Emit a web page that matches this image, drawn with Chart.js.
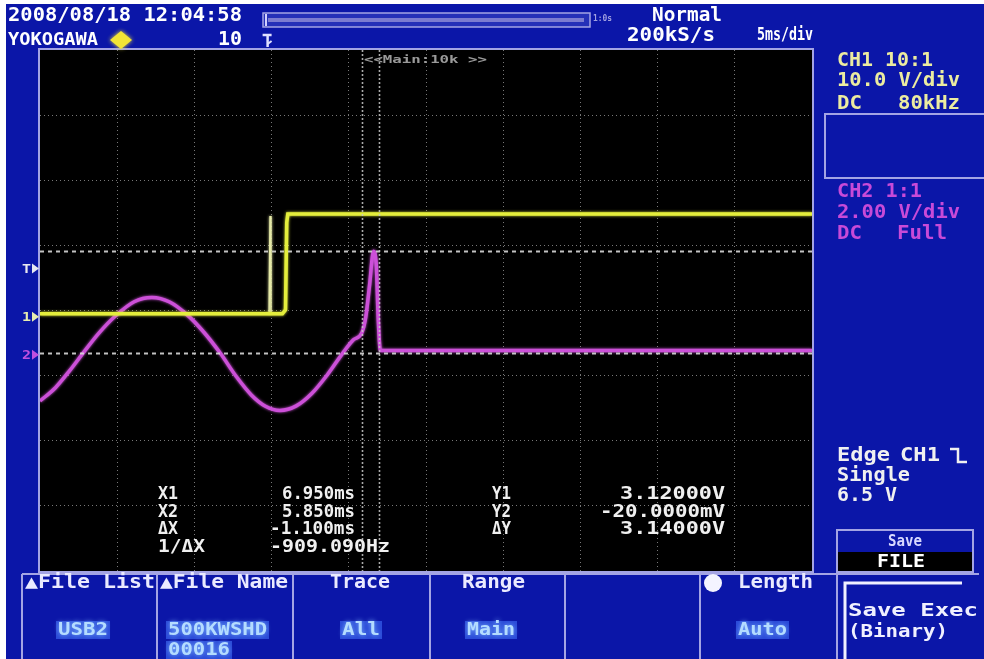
<!DOCTYPE html>
<html>
<head>
<meta charset="utf-8">
<script src="https://cdn.jsdelivr.net/npm/chart.js@4.4.1/dist/chart.umd.min.js"></script>
<style>
  html, body { margin: 0; padding: 0; background: #ffffff; }
  canvas { display: block; }
</style>
</head>
<body>
<canvas id="scope" width="984" height="659"></canvas>
<script>
// ---- acquisition data ----
// time axis in ms relative to the trigger point, 5 ms/div over 10 divisions
const timeRangeMs = [-15, 35];
const timePerDivMs = 5;
const vertDivs = [-4, 4];

// channel settings: volts per division and position offset (divisions)
const channelNames = ['CH1', 'CH2'];
const voltsPerDiv = [10, 2];
const offsetDiv = [-0.05, -0.65];

// CH1: step from about 0 V to about 15 V shortly after the trigger
const ch1TimeMs = [-15, 0.70, 0.90, 0.98, 1.05, 35];
const ch1Volts  = [0.0, 0.0, 0.6, 14.0, 15.3, 15.3];

// CH1: narrow glitch right at the trigger point
const ch1GlitchTimeMs = [-0.16, -0.10, -0.04];
const ch1GlitchVolts  = [0.0, 15.0, 0.0];

// CH2: sine-like signal, a sharp peak, then flat near 0 V
const ch2TimeMs = [-15, -14.0, -13.1, -12.2, -11.2, -10.1, -8.9, -7.75, -6.6, -5.5, -4.4, -3.34,
                   -2.3, -1.3, -0.4, 0.54, 1.6, 2.6, 3.6, 4.62, 5.3, 5.85, 6.1, 6.35, 6.6,
                   6.78, 6.9, 7.05, 35];
const ch2Volts  = [-1.48, -1.07, -0.56, 0.0, 0.60, 1.14, 1.57, 1.70, 1.56, 1.18, 0.64, 0.0,
                   -0.72, -1.30, -1.64, -1.77, -1.63, -1.25, -0.68, 0.0, 0.40, 0.62, 1.10, 2.10, 3.12,
                   2.70, 1.10, 0.07, 0.07];

// cursors: time cursors (ms) and level cursors on CH2 (V)
const cursorTimeMs = [6.95, 5.85];
const cursorLevelV = [3.12, -0.02];
const triggerLevelV = 6.5;

// readout texts
const xLabels = ['X1', 'X2', '\u0394X', '1/\u0394X'];
const xValues = ['6.950ms', '5.850ms', '-1.100ms', '-909.090Hz'];
const yLabels = ['Y1', 'Y2', '\u0394Y'];
const yValues = ['3.12000V', '-20.0000mV', '3.14000V'];

const menuTitles = ['\u25B2File List', '\u25B2File Name', 'Trace', 'Range', '', 'Length'];
const menuValues = [['USB2'], ['500KWSHD', '00016'], ['All'], ['Main'], [], ['Auto']];

// ---- helpers ----
const toDiv = (v, ch) => v / voltsPerDiv[ch] + offsetDiv[ch];
const series = (ts, vs, ch) => ts.map((t, i) => ({ x: t, y: toDiv(vs[i], ch) }));

const FONT = '"DejaVu Sans Mono", "Liberation Mono", monospace';
const BLUE = '#0b16a8';
const LAV = '#a4a4e4';
const Y_TXT = '#ececa0';
const M_TXT = '#c84ad8';
const Y_TRACE = '#e4ee3c';
const M_TRACE = '#cc50d8';

// draw a string stretched to span x0..x1, vertically centred on y
function fitText(ctx, str, x0, x1, y, color, size, glow) {
  ctx.save();
  ctx.font = 'bold ' + size + 'px ' + FONT;
  ctx.textBaseline = 'middle';
  ctx.fillStyle = color;
  if (glow) { ctx.shadowColor = glow; ctx.shadowBlur = 5; }
  const w = ctx.measureText(str).width || 1;
  ctx.translate(x0, y + 1);
  ctx.scale((x1 - x0) / w, 1);
  ctx.fillText(str, 0, 0);
  ctx.restore();
}

function line(ctx, pts, color, width, dash) {
  ctx.save();
  ctx.strokeStyle = color;
  ctx.lineWidth = width;
  ctx.setLineDash(dash || []);
  ctx.beginPath();
  ctx.moveTo(pts[0][0], pts[0][1]);
  for (let i = 1; i < pts.length; i++) ctx.lineTo(pts[i][0], pts[i][1]);
  ctx.stroke();
  ctx.restore();
}

function rect(ctx, x0, y0, x1, y1, color, width) {
  ctx.save();
  ctx.strokeStyle = color;
  ctx.lineWidth = width;
  ctx.strokeRect(x0, y0, x1 - x0, y1 - y0);
  ctx.restore();
}

// ---- screen furniture around the graticule ----
const screenPlugin = {
  id: 'screen',
  beforeDraw(chart) {
    const ctx = chart.ctx;
    const a = chart.chartArea;
    ctx.save();
    ctx.fillStyle = '#ffffff';
    ctx.fillRect(0, 0, chart.width, chart.height);
    ctx.fillStyle = BLUE;
    ctx.fillRect(6, 4, chart.width - 6, chart.height - 4);
    ctx.fillStyle = '#000000';
    ctx.fillRect(a.left, a.top, a.right - a.left, a.bottom - a.top);
    ctx.restore();
  },
  beforeDatasetDraw(chart, args) {
    const ctx = chart.ctx;
    ctx.save();
    ctx.shadowColor = args.meta.dataset.options.borderColor;
    ctx.shadowBlur = 3;
  },
  afterDatasetDraw(chart) {
    chart.ctx.restore();
  },
  afterDatasetsDraw(chart) {
    const ctx = chart.ctx;
    const a = chart.chartArea;
    const xs = chart.scales.x, ys = chart.scales.y;
    // level cursors (CH2)
    cursorLevelV.forEach(v => {
      const py = Math.round(ys.getPixelForValue(toDiv(v, 1))) + 0.5;
      line(ctx, [[a.left, py], [a.right, py]], 'rgba(215,215,215,0.9)', 2, [4, 4]);
    });
    // time cursors
    cursorTimeMs.forEach(t => {
      const px = Math.round(xs.getPixelForValue(t)) + 0.5;
      line(ctx, [[px, a.top], [px, a.bottom]], 'rgba(200,200,200,0.85)', 1.6, [2, 2]);
    });
    // zoom window caption
    const cx = xs.getPixelForValue(Math.min.apply(null, cursorTimeMs));
    fitText(ctx, '<<Main:10k >>', cx + 2, cx + 125, a.top + 9, '#9a9a9a', 11);
  },
  afterDraw(chart) {
    const ctx = chart.ctx;
    const a = chart.chartArea;
    const xs = chart.scales.x, ys = chart.scales.y;

    // graticule frame
    rect(ctx, a.left - 1, a.top - 1, a.right + 1, a.bottom + 1, LAV, 2);

    // ---- top status bar ----
    fitText(ctx, '2008/08/18 12:04:58', 8, 242, 15, '#ffffff', 19);
    fitText(ctx, 'YOKOGAWA', 8, 98, 40, '#ffffff', 17);
    ctx.save();
    ctx.fillStyle = '#f2e436';
    ctx.shadowColor = '#f2e436'; ctx.shadowBlur = 4;
    ctx.beginPath();
    ctx.moveTo(121, 31); ctx.lineTo(132, 40); ctx.lineTo(121, 49); ctx.lineTo(110, 40);
    ctx.closePath(); ctx.fill();
    ctx.restore();
    fitText(ctx, '10', 218, 242, 39, '#ffffff', 19);
    // trigger position mark
    const tx = xs.getPixelForValue(0) - 4;
    line(ctx, [[tx - 5, 35], [tx + 4, 35]], '#e0e0ff', 2.5);
    line(ctx, [[tx, 35], [tx, 47]], '#e0e0ff', 2.5);
    line(ctx, [[tx, 44], [tx + 4, 41]], '#e0e0ff', 2);
    // record length bar
    ctx.save();
    ctx.fillStyle = '#2530b8';
    ctx.fillRect(263, 13, 327, 14);
    ctx.fillStyle = '#7c7cd0';
    ctx.fillRect(268, 18, 316, 4);
    ctx.restore();
    rect(ctx, 263, 13, 590, 27, LAV, 1.5);
    line(ctx, [[266, 14], [266, 26]], '#d0d0ff', 2);
    fitText(ctx, '1:0s', 593, 612, 18, '#a0a0e0', 9);
    fitText(ctx, 'Normal', 652, 722, 15, '#ffffff', 19);
    fitText(ctx, '200kS/s', 627, 715, 35, '#ffffff', 19);
    fitText(ctx, '5ms/div', 757, 813, 35, '#ffffff', 17);

    // ---- left ground / level markers ----
    const marker = (py, label, color) => {
      ctx.save();
      ctx.fillStyle = color;
      ctx.beginPath();
      ctx.moveTo(32, py - 5); ctx.lineTo(39, py); ctx.lineTo(32, py + 5);
      ctx.closePath(); ctx.fill();
      ctx.restore();
      fitText(ctx, label, 22, 31, py, color, 13);
    };
    marker(ys.getPixelForValue(toDiv(triggerLevelV, 0)) - 3, 'T', '#e8e8f0');
    marker(ys.getPixelForValue(toDiv(0, 0)) + 3, '1', '#e8ecb0');
    marker(ys.getPixelForValue(toDiv(0, 1)) + 2, '2', '#c050e0');

    // ---- cursor readout ----
    const rowY = [494, 512, 529, 547];
    const xSpan = [[282, 355], [282, 355], [270, 355], [270, 390]];
    xLabels.forEach((s, i) => fitText(ctx, s, 158, s.length > 2 ? 205 : 178, rowY[i], '#f0f0f0', 17));
    xValues.forEach((s, i) => fitText(ctx, s, xSpan[i][0], xSpan[i][1], rowY[i], '#f0f0f0', 17));
    const ySpan = [[620, 725], [600, 725], [620, 725]];
    yLabels.forEach((s, i) => fitText(ctx, s, 492, 511, rowY[i], '#f0f0f0', 17));
    yValues.forEach((s, i) => fitText(ctx, s, ySpan[i][0], ySpan[i][1], rowY[i], '#f0f0f0', 17));

    // ---- right panel ----
    fitText(ctx, 'CH1 10:1', 837, 933, 60, Y_TXT, 19);
    fitText(ctx, '10.0 V/div', 837, 960, 80, Y_TXT, 19);
    fitText(ctx, 'DC', 837, 862, 103, Y_TXT, 19);
    fitText(ctx, '80kHz', 898, 960, 103, Y_TXT, 19);
    rect(ctx, 825, 114, 990, 178, LAV, 2);
    fitText(ctx, 'CH2 1:1', 837, 922, 191, M_TXT, 19);
    fitText(ctx, '2.00 V/div', 837, 960, 212, M_TXT, 19);
    fitText(ctx, 'DC', 837, 862, 233, M_TXT, 19);
    fitText(ctx, 'Full', 897, 947, 233, M_TXT, 19);

    fitText(ctx, 'Edge', 837, 890, 455, '#f0f0f0', 19);
    fitText(ctx, 'CH1', 900, 940, 455, '#f0f0f0', 19);
    line(ctx, [[950, 449], [958, 449], [958, 462], [967, 462]], '#f0f0f0', 2.5);
    fitText(ctx, 'Single', 837, 910, 475, '#f0f0f0', 19);
    fitText(ctx, '6.5 V', 837, 897, 495, '#f0f0f0', 19);

    // Save / FILE tab
    ctx.save();
    ctx.fillStyle = '#000000';
    ctx.fillRect(838, 552, 135, 20);
    ctx.restore();
    rect(ctx, 837, 530, 973, 572, LAV, 2);
    fitText(ctx, 'Save', 888, 922, 541, '#d8d8ff', 16);
    fitText(ctx, 'FILE', 877, 925, 562, '#ffffff', 17);

    // ---- soft-key menu ----
    const edges = [22, 157, 293, 430, 565, 700, 837];
    line(ctx, [[22, 574], [837, 574]], LAV, 2);
    edges.forEach(x => line(ctx, [[x, 574], [x, 659]], LAV, 2));
    const titleSpan = [[25, 155], [160, 288], [330, 390], [462, 525], null, [738, 813]];
    menuTitles.forEach((s, i) => {
      if (titleSpan[i]) fitText(ctx, s, titleSpan[i][0], titleSpan[i][1], 582, '#eaeaff', 19);
    });
    // circle marker beside Length
    ctx.save();
    ctx.fillStyle = '#f4f4ff';
    ctx.beginPath(); ctx.arc(713, 583, 9, 0, Math.PI * 2); ctx.fill();
    ctx.restore();
    const valueSpan = [
      [[58, 108, 630]],
      [[168, 267, 630], [168, 230, 650]],
      [[342, 380, 630]],
      [[467, 515, 630]],
      [],
      [[738, 787, 630]]
    ];
    menuValues.forEach((vals, i) => {
      vals.forEach((s, j) => {
        const sp = valueSpan[i][j];
        ctx.save();
        ctx.fillStyle = '#2a4ad8';
        ctx.fillRect(sp[0] - 2, sp[2] - 9, sp[1] - sp[0] + 4, 18);
        ctx.restore();
        fitText(ctx, s, sp[0], sp[1], sp[2], '#b4dcff', 17, '#80b8ff');
      });
    });

    // Save Exec key
    line(ctx, [[837, 574], [979, 574]], LAV, 2);
    line(ctx, [[845, 659], [845, 583], [962, 583]], '#f0f0ff', 3);
    fitText(ctx, 'Save Exec', 848, 978, 610, '#f0f0ff', 18);
    fitText(ctx, '(Binary)', 848, 948, 631, '#f0f0ff', 18);
  }
};

// ---- graticule and traces through Chart.js ----
const gridColor = (c) => {
  const n = c.scale.ticks.length;
  return (c.index === 0 || c.index === n - 1) ? 'rgba(0,0,0,0)' : 'rgba(160,160,160,0.75)';
};

new Chart(document.getElementById('scope'), {
  type: 'line',
  data: {
    datasets: [
      {
        label: channelNames[0],
        data: series(ch1TimeMs, ch1Volts, 0),
        borderColor: Y_TRACE,
        borderWidth: 3.5,
        tension: 0,
        pointRadius: 0
      },
      {
        label: channelNames[0] + ' glitch',
        data: series(ch1GlitchTimeMs, ch1GlitchVolts, 0),
        borderColor: '#e6eaa8',
        borderWidth: 1.5,
        tension: 0,
        pointRadius: 0
      },
      {
        label: channelNames[1],
        data: series(ch2TimeMs, ch2Volts, 1),
        borderColor: M_TRACE,
        borderWidth: 3.5,
        cubicInterpolationMode: 'monotone',
        pointRadius: 0
      }
    ]
  },
  options: {
    responsive: false,
    animation: false,
    devicePixelRatio: 1,
    layout: { padding: { left: 40, top: 50, right: 172, bottom: 88 } },
    plugins: { legend: { display: false }, tooltip: { enabled: false } },
    scales: {
      x: {
        type: 'linear',
        min: timeRangeMs[0],
        max: timeRangeMs[1],
        ticks: { display: false, stepSize: timePerDivMs },
        grid: { color: gridColor, drawTicks: false, lineWidth: 1 },
        border: { display: false, dash: [1, 3] }
      },
      y: {
        type: 'linear',
        min: vertDivs[0],
        max: vertDivs[1],
        ticks: { display: false, stepSize: 1 },
        grid: { color: gridColor, drawTicks: false, lineWidth: 1 },
        border: { display: false, dash: [1, 3] }
      }
    }
  },
  plugins: [screenPlugin]
});
</script>
</body>
</html>
